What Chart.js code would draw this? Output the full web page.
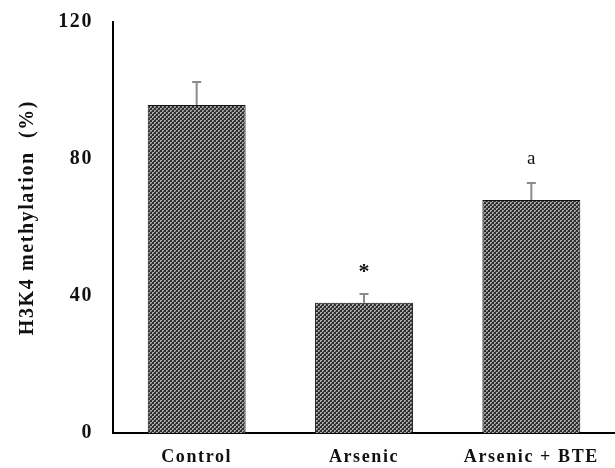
<!DOCTYPE html>
<html>
<head>
<meta charset="utf-8">
<script src="https://cdn.jsdelivr.net/npm/chart.js@4.4.0/dist/chart.umd.min.js"></script>
<style>
html,body{margin:0;padding:0;background:#fff;}
#wrap{width:615px;height:468px;}
</style>
</head>
<body>
<div id="wrap"><canvas id="c" width="615" height="468"></canvas></div>
<script>
const categories = ["Control", "Arsenic", "Arsenic + BTE"];
const values = [95.8, 38.0, 68.0];
const errors = [6.7, 2.6, 5.0];
const marks = ["", "*", "a"];
const yTicks = [0, 40, 80, 120];

function makePattern() {
  const p = document.createElement('canvas');
  p.width = 4; p.height = 4;
  const g = p.getContext('2d');
  g.fillStyle = '#2e2e2e';
  g.fillRect(0, 0, 4, 4);
  g.fillStyle = '#a8a8a8';
  g.fillRect(0, 0, 2, 2);
  g.fillRect(2, 2, 2, 2);
  g.fillStyle = '#5a5a5a';
  g.fillRect(1, 1, 1, 1);
  g.fillRect(3, 3, 1, 1);
  return document.getElementById('c').getContext('2d').createPattern(p, 'repeat');
}

const spacingPlugin = {
  id: 'spacing',
  beforeDraw(chart) { chart.ctx.letterSpacing = '1.6px'; }
};

const errPlugin = {
  id: 'errbars',
  afterDatasetsDraw(chart) {
    const ctx = chart.ctx;
    const meta = chart.getDatasetMeta(0);
    const y = chart.scales.y;
    ctx.save();
    meta.data.forEach((bar, i) => {
      const top = y.getPixelForValue(values[i] + errors[i]);
      const base = y.getPixelForValue(values[i]);
      ctx.strokeStyle = '#8a8a8a';
      ctx.lineWidth = 2;
      ctx.beginPath();
      ctx.moveTo(bar.x, base);
      ctx.lineTo(bar.x, top);
      ctx.moveTo(bar.x - 4.5, top);
      ctx.lineTo(bar.x + 4.5, top);
      ctx.stroke();
      if (marks[i]) {
        ctx.fillStyle = '#111';
        ctx.letterSpacing = '0px';
        ctx.font = marks[i] === '*' ? 'bold 22px "Liberation Serif"' : '19px "Liberation Serif"';
        ctx.textAlign = 'center';
        ctx.textBaseline = 'bottom';
        ctx.fillText(marks[i], bar.x, top - (marks[i] === '*' ? 11 : 14));
      }
    });
    ctx.restore();
  }
};

new Chart(document.getElementById('c'), {
  type: 'bar',
  data: {
    labels: categories,
    datasets: [{
      data: values,
      backgroundColor: makePattern(),
      borderColor: '#111',
      borderWidth: 1,
      categoryPercentage: 1,
      barPercentage: 0.585
    }]
  },
  options: {
    responsive: false,
    animation: false,
    events: [],
    layout: { padding: { top: 22, right: 0, left: 0, bottom: 0 } },
    plugins: { legend: { display: false }, tooltip: { enabled: false } },
    scales: {
      x: {
        grid: { display: false, drawTicks: false },
        border: { display: true, color: '#000', width: 2 },
        ticks: {
          color: '#111',
          font: { family: 'Liberation Serif', size: 18, weight: 'bold' },
          padding: 14,
          maxRotation: 0
        },
        afterFit(s) { s.height = 35; s.paddingLeft = 0; s.paddingRight = 0; }
      },
      y: {
        min: 0, max: 120,
        afterBuildTicks(s) { s.ticks = yTicks.map(v => ({ value: v })); },
        grid: { display: false, drawTicks: false },
        border: { display: true, color: '#000', width: 2 },
        ticks: {
          color: '#111',
          font: { family: 'Liberation Serif', size: 20, weight: 'bold' },
          padding: 20
        },
        title: {
          display: true,
          text: '   H3K4 methylation  (%)',
          color: '#111',
          font: { family: 'Liberation Serif', size: 20, weight: 'bold' },
          padding: { top: 16, bottom: 0 }
        },
        afterFit(s) { s.width = 113; s.paddingTop = 0; s.paddingBottom = 0; }
      }
    }
  },
  plugins: [spacingPlugin, errPlugin]
});
</script>
</body>
</html>
